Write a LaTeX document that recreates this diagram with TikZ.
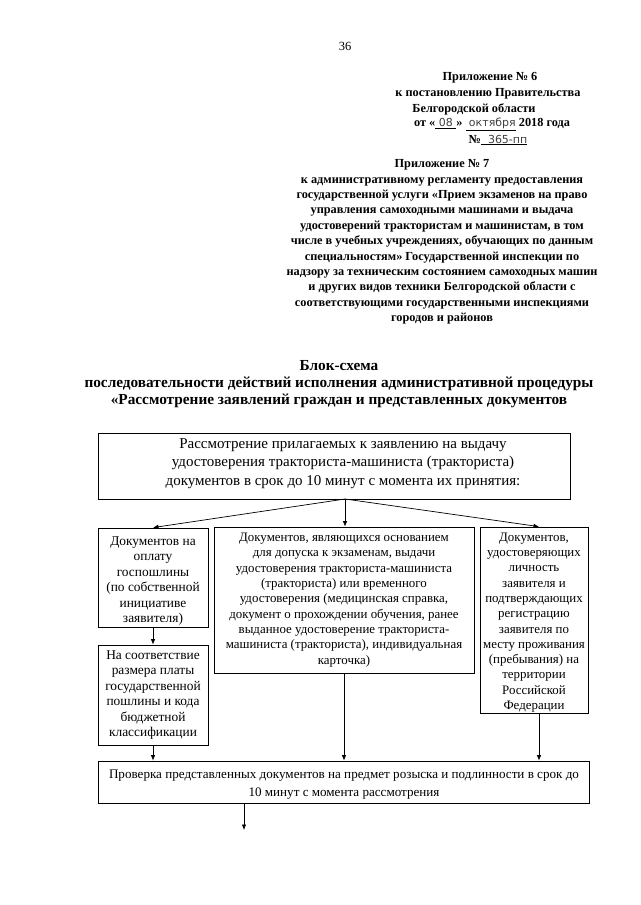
\documentclass[tikz,border=0pt]{standalone}
\usepackage{fontspec}
\setmainfont{Liberation Serif}
\newfontfamily\fillfont{DejaVu Sans}
\usetikzlibrary{arrows.meta}
\tikzset{
  box/.style={draw, line width=0.8pt, align=center, inner sep=2pt,
    font=\fontsize{12.9}{15.3}\selectfont},
  frame/.style={draw, line width=0.8pt, inner sep=0pt},
  txt/.style={align=center, inner sep=0pt, font=\fontsize{12.9}{15.3}\selectfont},
  ltxt/.style={txt, font=\fontsize{13.4}{15.4}\selectfont},
  arr/.style={line width=0.7pt, -{Latex[length=5.5pt,width=4.5pt]}},
  hdr/.style={align=center, inner sep=0pt, font=\bfseries\fontsize{12.3}{15.4}\selectfont},
}
\newcommand{\fillin}[1]{\underline{\fillfont\mdseries\fontsize{11}{13}\selectfont\color{black!75}#1}}
\begin{document}
\begin{tikzpicture}[x=1pt,y=-1pt]
\useasboundingbox (0,0) rectangle (640,905);
\fill[white] (0,0) rectangle (640,905);

\node[inner sep=0pt, font=\fontsize{12.5}{15}\selectfont] (pg) at (345,46) {36};

\node[hdr] (h1) at (490,78) {Приложение № 6};
\node[hdr] (h2) at (488,93.5) {к постановлению Правительства};
\node[hdr] (h3) at (474,109) {Белгородской области};
\node[hdr] (h4) at (492,124.5) {от «\fillin{~08~}» \fillin{~октября} 2018 года};
\node[hdr] (h5) at (498,140) {№\fillin{~~365-пп}};

\node[hdr] (h6) at (442,242) {Приложение № 7\\
к административному регламенту предоставления\\
государственной услуги «Прием экзаменов на право\\
управления самоходными машинами и выдача\\
удостоверений трактористам и машинистам, в том\\
числе в учебных учреждениях, обучающих по данным\\
специальностям» Государственной инспекции по\\
надзору за техническим состоянием самоходных машин\\
и других видов техники Белгородской области с\\
соответствующими государственными инспекциями\\
городов и районов};

\node[align=center, inner sep=0pt, font=\bfseries\fontsize{15.3}{17}\selectfont] (title) at (339,384) {Блок-схема\\
последовательности действий исполнения административной процедуры\\
«Рассмотрение заявлений граждан и представленных документов};

\node[frame, minimum width=472pt, minimum height=66pt] (top) at (334,466) {};
\node[txt, font=\fontsize{15}{18.5}\selectfont] (toptext) at (343,463.5) {Рассмотрение прилагаемых к заявлению на выдачу\\
удостоверения тракториста-машиниста (тракториста)\\
документов в срок до 10 минут с момента их принятия:};

\node[frame, minimum width=110pt, minimum height=99pt] (l1) at (153,577.5) {};
\node[ltxt] (l1t) at (153,581) {Документов на\\
оплату\\
госпошлины\\
(по собственной\\
инициативе\\
заявителя)};

\node[box, font=\fontsize{13.4}{15.4}\selectfont, minimum width=110pt, minimum height=100pt] (l2) at (153,695) {На соответствие\\
размера платы\\
государственной\\
пошлины и кода\\
бюджетной\\
классификации};

\node[box, minimum width=260pt, minimum height=146pt] (mid) at (344,600) {Документов, являющихся основанием\\
для допуска к экзаменам, выдачи\\
удостоверения тракториста-машиниста\\
(тракториста) или временного\\
удостоверения (медицинская справка,\\
документ о прохождении обучения, ранее\\
выданное удостоверение тракториста-\\
машиниста (тракториста), индивидуальная\\
карточка)};

\node[frame, minimum width=108pt, minimum height=186pt] (r1) at (534,620) {};
\node[txt] (r1t) at (534,622.5) {Документов,\\
удостоверяющих\\
личность\\
заявителя и\\
подтверждающих\\
регистрацию\\
заявителя по\\
месту проживания\\
(пребывания) на\\
территории\\
Российской\\
Федерации};

\node[frame, minimum width=491pt, minimum height=42pt] (bot) at (343.5,782) {};
\node[txt, font=\fontsize{13.1}{18}\selectfont] (bottext) at (344,784.5) {Проверка представленных документов на предмет розыска и подлинности в срок до\\
10 минут с момента рассмотрения};

\coordinate (tb) at (345,499);
\coordinate (rx) at (539,0);
\coordinate (bx) at (244,0);
\coordinate (end) at (244,830);

\draw[arr] (tb) -- (tb |- mid.north);
\draw[arr] (tb) -- (l1.north);
\draw[arr] (tb) -- (rx |- r1.north);
\draw[arr] (l1.south) -- (l2.north);
\draw[arr] (l2.south) -- (l2.south |- bot.north);
\draw[arr] (mid.south) -- (mid.south |- bot.north);
\draw[arr] (rx |- r1.south) -- (rx |- bot.north);
\draw[arr] (bx |- bot.south) -- (end);
\end{tikzpicture}
\end{document}
